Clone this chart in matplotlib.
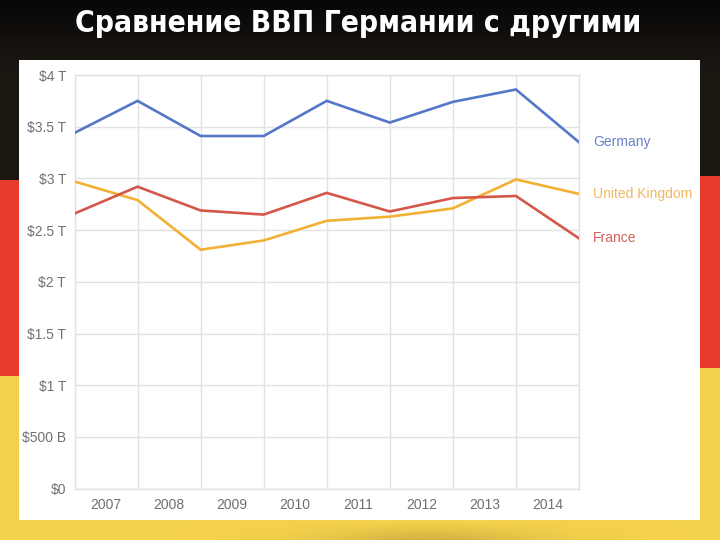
import matplotlib
matplotlib.use("Agg")
import matplotlib.pyplot as plt
import numpy as np
from matplotlib.patches import Rectangle

# GDP, trillions of USD
germany = [3.44, 3.75, 3.41, 3.41, 3.75, 3.54, 3.74, 3.86, 3.35]
united_kingdom = [2.97, 2.79, 2.31, 2.40, 2.59, 2.63, 2.71, 2.99, 2.85]
france = [2.66, 2.92, 2.69, 2.65, 2.86, 2.68, 2.81, 2.83, 2.42]
years = ["2007", "2008", "2009", "2010", "2011", "2012", "2013", "2014"]
y_ticks = [0, 0.5, 1, 1.5, 2, 2.5, 3, 3.5, 4]
y_labels = ["$0", "$500 B", "$1 T", "$1.5 T", "$2 T", "$2.5 T", "$3 T", "$3.5 T", "$4 T"]

W, H = 720, 540
fig = plt.figure(figsize=(W / 100, H / 100), dpi=100)

# flag background (black / red / gold)
bg = fig.add_axes([0, 0, 1, 1])
yy, xx = np.mgrid[0:H, 0:W]
img = np.zeros((H, W, 3))
red_edge = 180 - 5 * xx / W
gold_edge = 376 - 9 * xx / W
black = np.array([0.11, 0.09, 0.07])
red = np.array([0.91, 0.23, 0.18])
gold = np.array([0.96, 0.82, 0.30])
img[:] = black
dark_top = np.clip(1 - yy / 70, 0, 1)[..., None]
img = img * (1 - dark_top) + np.array([0.03, 0.03, 0.03]) * dark_top
img[yy >= red_edge] = red
img[yy >= gold_edge] = gold
# darker gold shading near the bottom centre
shade = np.exp(-((xx - 430) / 110.0) ** 2) * np.clip((yy - 522) / 18.0, 0, 1)
img = img * (1 - 0.15 * shade[..., None])
bg.imshow(img, extent=[0, W, H, 0], aspect="auto")
bg.set_xlim(0, W)
bg.set_ylim(H, 0)
bg.axis("off")

# white card
fig.patches.append(Rectangle((19 / W, 1 - 520 / H), (700 - 19) / W, (520 - 60) / H,
                             transform=fig.transFigure, facecolor="white",
                             edgecolor="none", zorder=1))

fig.text(0.497, 1 - 23 / H, "Сравнение ВВП Германии с другими",
         ha="center", va="center", color="white", fontsize=21.5, fontweight="bold",
         fontstretch="condensed", family="DejaVu Sans")

ax = fig.add_axes([74.5 / W, 1 - 488.6 / H, (579 - 74.5) / W, (488.6 - 75) / H])
ax.set_facecolor("none")
ax.set_zorder(2)

x = np.arange(len(germany))
series = [
    ("Germany", germany, "#5477c9", "#6a80c4"),
    ("United Kingdom", united_kingdom, "#f2b035", "#f0b860"),
    ("France", france, "#d4574a", "#d4605a"),
]
for name, vals, color, text_color in series:
    ax.plot(x, vals, color=color, linewidth=1.9, solid_joinstyle="miter", zorder=3)
    ax.annotate(name, xy=(x[-1], vals[-1]), xytext=(10, 0), textcoords="offset points",
                va="center", ha="left", color=text_color, fontsize=10,
                family="Liberation Sans", annotation_clip=False)

ax.set_xlim(0, len(germany) - 1)
ax.set_ylim(0, 4)
ax.set_xticks(x, minor=False)
ax.set_xticklabels([])
ax.set_xticks(np.arange(len(years)) + 0.5, minor=True)
ax.set_xticklabels(years, minor=True)
ax.set_yticks(y_ticks)
ax.set_yticklabels(y_labels)
ax.tick_params(axis="both", which="both", length=0, colors="#707070", labelsize=10)
ax.tick_params(axis="y", pad=6)
ax.tick_params(axis="x", which="minor", pad=7)
for lab in ax.get_xticklabels(minor=True) + ax.get_yticklabels():
    lab.set_family("Liberation Sans")

ax.grid(True, which="major", color="#e2e2e2", linewidth=1.0)
for s in ax.spines.values():
    s.set_color("#e2e2e2")
    s.set_linewidth(1.0)

plt.savefig("out.png", dpi=100)
plt.close()
